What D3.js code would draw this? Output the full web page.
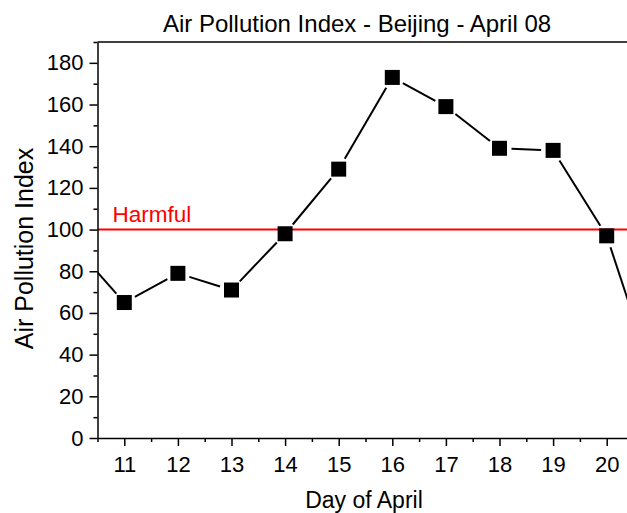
<!DOCTYPE html>
<html><head><meta charset="utf-8">
<script src="https://cdn.jsdelivr.net/npm/d3@7"></script>
<style>
html,body{margin:0;padding:0;background:#fff;overflow:hidden}
text{font-family:"Liberation Sans",Arial,sans-serif}
</style></head>
<body>
<svg id="chart" width="627" height="513"></svg>
<script>
// Data
const days = [10, 11, 12, 13, 14, 15, 16, 17, 18, 19, 20, 21];
const api  = [94, 65, 79, 71, 98, 129, 173, 159, 139, 138, 97, 19];
const xTicks = [11, 12, 13, 14, 15, 16, 17, 18, 19, 20];
const yTicks = [0, 20, 40, 60, 80, 100, 120, 140, 160, 180];
const threshold = 100;
const thresholdLabel = "Harmful";
const title = "Air Pollution Index - Beijing - April 08";
const xLabel = "Day of April";
const yLabel = "Air Pollution Index";

(function () {
const svg = d3.select("#chart");
const W = 627, H = 513;
const mLeft = 97.5, mTop = 42, mBottom = 438;
const pxPerDay = 53.6;
const x = d3.scaleLinear().domain([10.5, 21]).range([mLeft, mLeft + pxPerDay * 10.5]);
const y = d3.scaleLinear().domain([0, 190]).range([mBottom, mTop]);

// clip
svg.append("defs").append("clipPath").attr("id", "plotclip")
  .append("rect").attr("x", mLeft).attr("y", mTop - 10).attr("width", W - mLeft + 50).attr("height", mBottom - mTop + 10);

const plot = svg.append("g").attr("clip-path", "url(#plotclip)");

// threshold line
plot.append("line")
  .attr("x1", x(10.5)).attr("x2", x(21))
  .attr("y1", y(threshold)).attr("y2", y(threshold))
  .attr("stroke", "#ff0000").attr("stroke-width", 2);

// line segments with gaps around markers
const pts = days.map((d, i) => [x(d), y(api[i])]);
const gap = 12;
for (let i = 0; i < pts.length - 1; i++) {
  const [x1, y1] = pts[i], [x2, y2] = pts[i + 1];
  const dx = x2 - x1, dy = y2 - y1, len = Math.hypot(dx, dy);
  const ux = dx / len, uy = dy / len;
  plot.append("line")
    .attr("x1", x1 + ux * gap).attr("y1", y1 + uy * gap)
    .attr("x2", x2 - ux * gap).attr("y2", y2 - uy * gap)
    .attr("stroke", "#000").attr("stroke-width", 2);
}
// markers
const ms = 15;
plot.selectAll("rect.m").data(days.map((d, i) => ({d, v: api[i]})))
  .enter().append("rect").attr("class", "m")
  .attr("x", p => x(p.d) - ms / 2).attr("y", p => y(p.v) - ms / 2)
  .attr("width", ms).attr("height", ms).attr("fill", "#000");

// threshold label
svg.append("text").attr("x", 112.5).attr("y", y(threshold) - 8)
  .attr("fill", "#ff0000").attr("font-size", 22.5).text(thresholdLabel);

// axes
const yMinor = d3.range(0, 191, 10).filter(v => v % 20 !== 0);
const xMinor = d3.range(10.5, 21, 1);

svg.append("g").attr("transform", `translate(${mLeft},0)`)
  .call(d3.axisLeft(y).tickValues(yTicks).tickFormat(d3.format("d")).tickSize(8).tickSizeOuter(0).tickPadding(6));
svg.append("g").attr("transform", `translate(${mLeft},0)`)
  .call(d3.axisLeft(y).tickValues(yMinor).tickFormat("").tickSize(4).tickSizeOuter(0))
  .select(".domain").remove();
svg.append("g").attr("transform", `translate(0,${mBottom})`)
  .call(d3.axisBottom(x).tickValues(xTicks).tickFormat(d3.format("d")).tickSize(8).tickSizeOuter(0).tickPadding(10));
svg.append("g").attr("transform", `translate(0,${mBottom})`)
  .call(d3.axisBottom(x).tickValues(xMinor).tickFormat("").tickSize(4).tickSizeOuter(0))
  .select(".domain").remove();

svg.selectAll(".tick line").attr("stroke", "#000").attr("stroke-width", 1.5);
svg.selectAll(".domain").attr("stroke", "#000").attr("stroke-width", 1.5);
svg.selectAll(".tick text").attr("font-size", 22).attr("fill", "#000")
  .style("font-family", "'Liberation Sans', Arial, sans-serif");

// top frame line
svg.append("line").attr("x1", mLeft).attr("x2", W + 5).attr("y1", mTop).attr("y2", mTop)
  .attr("stroke", "#000").attr("stroke-width", 1.5);

// titles
svg.append("text").attr("x", 357).attr("y", 31.5).attr("text-anchor", "middle")
  .attr("font-size", 24).attr("fill", "#000").text(title);
svg.append("text").attr("x", 364).attr("y", 507.5).attr("text-anchor", "middle")
  .attr("font-size", 23).attr("fill", "#000").text(xLabel);
svg.append("text").attr("transform", `translate(33,248.5) rotate(-90)`).attr("text-anchor", "middle")
  .attr("font-size", 25).attr("fill", "#000").text(yLabel);
})();
</script>
</body></html>
